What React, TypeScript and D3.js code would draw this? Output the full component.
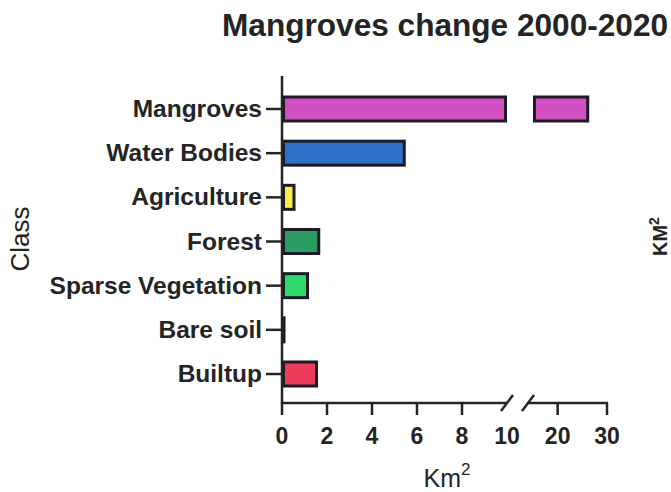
import React from "react";
import * as d3 from "d3";

const categories = ["Mangroves", "Water Bodies", "Agriculture", "Forest", "Sparse Vegetation", "Bare soil", "Builtup"];
const values = [26.4, 5.5, 0.6, 1.7, 1.2, 0.05, 1.6];
const colors = ["#d150bf", "#2f6fc6", "#f6ec4c", "#2c9d62", "#2fd86b", "#444444", "#ec3d5c"];
const ticksLow = [0, 2, 4, 6, 8, 10];
const ticksHigh = [20, 30];
const title = "Mangroves change 2000-2020";

const W = 671;
const H = 492;
const FONT = "'Liberation Sans', Arial, Helvetica, sans-serif";
const INK = "#242424";
const STROKE = "#1e1a28";

export default function App() {
  const xLow = d3.scaleLinear().domain([0, 10]).range([282, 507]);
  const xHigh = d3.scaleLinear().domain([15, 30]).range([533, 607]);
  const y = d3.scalePoint<string>().domain(categories).range([109, 374]);
  const barH = 24;
  const axisY = 403;
  const breakL = 507;
  const breakR = 528;

  return (
    <svg width={W} height={H} style={{ position: "absolute", left: 0, top: 0, background: "#fff" }}>
      <text x={222} y={36} fontFamily={FONT} fontWeight="bold" fontSize={31.6} fill={INK}>
        {title}
      </text>

      {/* bars */}
      {categories.map((c, i) => {
        const v = values[i];
        const cy = y(c)!;
        const parts: [number, number][] = [];
        if (v <= 10) parts.push([xLow(0), xLow(v)]);
        else {
          parts.push([xLow(0), xLow(10)]);
          parts.push([xHigh(15), xHigh(v)]);
        }
        return parts.map(([a, b], j) => (
          <rect
            key={c + j}
            x={a + 1.5}
            y={cy - barH / 2}
            width={Math.max(0.5, b - a - 3)}
            height={barH}
            fill={colors[i]}
            stroke={STROKE}
            strokeWidth={3}
          />
        ));
      })}

      {/* y axis */}
      <line x1={282} x2={282} y1={76} y2={axisY + 1} stroke={INK} strokeWidth={2.5} />
      {categories.map((c) => (
        <g key={c}>
          <line x1={266} x2={282} y1={y(c)!} y2={y(c)!} stroke={INK} strokeWidth={2.5} />
          <text
            x={262}
            y={y(c)! + 8}
            textAnchor="end"
            fontFamily={FONT}
            fontWeight="bold"
            fontSize={24.5}
            fill={INK}
          >
            {c}
          </text>
        </g>
      ))}

      {/* x axis */}
      <line x1={281} x2={breakL} y1={axisY} y2={axisY} stroke={INK} strokeWidth={2.5} />
      <line x1={breakR} x2={xHigh(30) + 1} y1={axisY} y2={axisY} stroke={INK} strokeWidth={2.5} />
      <line x1={breakL - 6} x2={breakL + 6} y1={axisY + 8} y2={axisY - 8} stroke={INK} strokeWidth={2.5} />
      <line x1={breakR - 6} x2={breakR + 6} y1={axisY + 8} y2={axisY - 8} stroke={INK} strokeWidth={2.5} />
      {ticksLow.map((t) => (
        <g key={"l" + t}>
          {t < 10 && <line x1={xLow(t)} x2={xLow(t)} y1={axisY} y2={axisY + 12} stroke={INK} strokeWidth={2.5} />}
          <text x={xLow(t)} y={444} textAnchor="middle" fontFamily={FONT} fontWeight="bold" fontSize={23} fill={INK}>
            {t}
          </text>
        </g>
      ))}
      {ticksHigh.map((t) => (
        <g key={"h" + t}>
          <line x1={xHigh(t)} x2={xHigh(t)} y1={axisY} y2={axisY + 12} stroke={INK} strokeWidth={2.5} />
          <text x={xHigh(t)} y={444} textAnchor="middle" fontFamily={FONT} fontWeight="bold" fontSize={23} fill={INK}>
            {t}
          </text>
        </g>
      ))}

      {/* x axis title */}
      <text x={447} y={487} textAnchor="middle" fontFamily={FONT} fontSize={25} fill={INK}>
        Km<tspan fontSize={17} dy={-12}>2</tspan>
      </text>

      {/* y axis title */}
      <text
        transform="translate(29,239) rotate(-90)"
        textAnchor="middle"
        fontFamily={FONT}
        fontSize={26}
        fill={INK}
      >
        Class
      </text>

      {/* right side label */}
      <text
        transform="translate(667,256) rotate(-90)"
        fontFamily={FONT}
        fontWeight="bold"
        fontSize={20}
        fill={INK}
      >
        KM<tspan fontSize={14} dy={-8}>2</tspan>
      </text>
    </svg>
  );
}
